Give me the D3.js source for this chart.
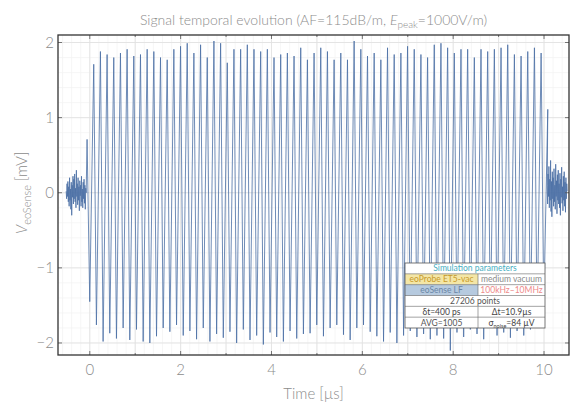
<!DOCTYPE html>
<html>
<head>
<meta charset="utf-8">
<script src="https://cdn.jsdelivr.net/npm/d3@7"></script>
<style>
  body { margin: 0; background: #fff; }
  svg { display: block; font-family: "Lato", "Open Sans", sans-serif; }
</style>
</head>
<body>
<svg id="chart" width="576" height="409"></svg>
<script>
// burst: crest / trough values (mV), one per half cycle
const burstStart = -0.06;   // time of first crest, µs
const burstPeriod = 0.147;  // µs
const crests = [0.71, 1.71, 1.88, 1.84, 1.80, 1.86, 1.91, 1.82, 1.84, 1.91, 1.88, 1.80, 1.77, 1.91,
  1.95, 1.99, 1.86, 1.97, 1.80, 2.02, 1.99, 1.73, 1.91, 1.91, 1.97, 1.91, 1.88, 1.91, 1.80, 1.84,
  1.86, 1.82, 1.93, 1.77, 1.86, 1.93, 1.88, 1.77, 1.86, 1.77, 2.02, 1.91, 1.82, 1.86, 1.77, 1.93,
  1.84, 1.86, 1.95, 1.91, 1.84, 1.80, 1.97, 1.99, 1.93, 1.86, 1.91, 1.91, 1.80, 1.91, 1.88, 1.91,
  1.93, 1.97, 1.84, 1.82, 1.88, 1.93, 1.86, 1.11];
const troughs = [-1.45, -1.76, -1.98, -1.87, -1.94, -1.80, -1.96, -1.82, -1.98, -2.00, -1.91, -1.80,
  -1.85, -1.76, -1.90, -1.84, -1.95, -1.80, -1.98, -1.88, -1.93, -1.85, -2.00, -1.82, -1.96, -1.90,
  -2.02, -1.86, -1.92, -1.98, -1.84, -1.94, -1.88, -1.87, -1.76, -1.91, -1.80, -1.76, -1.89, -1.96,
  -1.80, -1.76, -1.85, -1.91, -1.98, -1.86, -2.00, -1.90, -1.84, -1.92, -1.88, -1.95, -1.90, -1.94,
  -2.10, -1.86, -1.92, -1.82, -1.88, -1.95, -1.80, -1.90, -1.86, -1.93, -1.84, -1.90, -1.82, -1.78,
  -1.55];

// noise before and after the burst (mV)
const leftNoiseSpan = [-0.52, -0.08];
const leftNoise = [0.02, -0.08, 0.12, -0.05, 0.15, -0.12, 0.08, -0.18, 0.20, -0.10, 0.05, -0.22,
  0.14, -0.30, 0.10, -0.06, 0.22, -0.15, 0.18, -0.08, 0.25, -0.12, 0.06, -0.20, 0.30, -0.05, 0.12,
  -0.16, 0.20, -0.10, 0.08, -0.24, 0.16, -0.04, 0.10, -0.18, 0.22, -0.12, 0.05, -0.20, 0.14, -0.08,
  0.18, -0.14, 0.10, -0.22, 0.06, 0.00];
const rightNoiseSpan = [10.07, 10.51];
const rightNoise = [0.10, -0.15, 0.25, -0.05, 0.35, -0.20, 0.18, -0.10, 0.43, -0.25, 0.15, -0.32,
  0.28, -0.08, 0.20, -0.18, 0.32, -0.12, 0.10, -0.22, 0.38, -0.05, 0.16, -0.28, 0.24, -0.10, 0.30,
  -0.15, 0.12, -0.20, 0.26, -0.30, 0.18, -0.06, 0.34, -0.14, 0.08, -0.24, 0.22, -0.10, 0.28, -0.18,
  0.14, -0.26, 0.20, -0.08, 0.12, 0.02];

const xTicks = [0, 2, 4, 6, 8, 10];
const yTicks = [-2, -1, 0, 1, 2];

const legendRows = [
  [{ text: "Simulation parameters", color: "#48aebf" }],
  [{ text: "eoProbe ET5-vac", color: "#c79a2a", fill: "#f4e6a6" }, { text: "medium vacuum", color: "#8a8a8a" }],
  [{ text: "eoSense LF", color: "#6a86a6", fill: "#b6cadf" }, { text: "100kHz\u201310MHz", color: "#ee8a8a" }],
  [{ text: "27206 points", color: "#555" }],
  [{ text: "\u03b4t=400 ps", color: "#444" }, { text: "\u0394t=10.9\u00b5s", color: "#444" }],
  [{ text: "AVG=1005", color: "#555" }, { text: "\u03c3", sub: "noise", after: "=84 \u00b5V", color: "#444" }]
];

const svg = d3.select("#chart");
const margin = { top: 35, right: 7, bottom: 54, left: 58 };
const width = 576, height = 409;

const x = d3.scaleLinear().domain([-0.7, 10.55]).range([margin.left, width - margin.right]);
const y = d3.scaleLinear().domain([-2.16, 2.1]).range([height - margin.bottom, margin.top]);

const textGrey = "#8c8c8c";

// grid
const grid = svg.append("g");
grid.selectAll(".vminor").data(x.ticks(56)).join("line")
  .attr("x1", d => x(d)).attr("x2", d => x(d))
  .attr("y1", margin.top).attr("y2", height - margin.bottom)
  .attr("stroke", "#f2f2f2").attr("stroke-width", 0.7);
grid.selectAll(".hminor").data(y.ticks(20)).join("line")
  .attr("y1", d => y(d)).attr("y2", d => y(d))
  .attr("x1", margin.left).attr("x2", width - margin.right)
  .attr("stroke", "#f2f2f2").attr("stroke-width", 0.7);
grid.selectAll(".vmajor").data(x.ticks(11)).join("line")
  .attr("x1", d => x(d)).attr("x2", d => x(d))
  .attr("y1", margin.top).attr("y2", height - margin.bottom)
  .attr("stroke", "#e0e0e0").attr("stroke-width", 0.8);
grid.selectAll(".hmajor").data(yTicks).join("line")
  .attr("y1", d => y(d)).attr("y2", d => y(d))
  .attr("x1", margin.left).attr("x2", width - margin.right)
  .attr("stroke", "#e0e0e0").attr("stroke-width", 0.8);

// trace
const points = [];
leftNoise.forEach((v, i) => points.push([leftNoiseSpan[0] + i * (leftNoiseSpan[1] - leftNoiseSpan[0]) / (leftNoise.length - 1), v]));
crests.forEach((c, k) => {
  points.push([burstStart + k * burstPeriod, c]);
  if (k < troughs.length) points.push([burstStart + (k + 0.4) * burstPeriod, troughs[k]]);
});
rightNoise.forEach((v, i) => points.push([rightNoiseSpan[0] + i * (rightNoiseSpan[1] - rightNoiseSpan[0]) / (rightNoise.length - 1), v]));

svg.append("clipPath").attr("id", "plotClip").append("rect")
  .attr("x", margin.left).attr("y", margin.top)
  .attr("width", width - margin.left - margin.right)
  .attr("height", height - margin.top - margin.bottom);

svg.append("path")
  .datum(points)
  .attr("clip-path", "url(#plotClip)")
  .attr("fill", "none")
  .attr("stroke", "#4a6fa5")
  .attr("stroke-width", 0.8)
  .attr("d", d3.line().x(d => x(d[0])).y(d => y(d[1])));

// ticks inward on all sides
const tk = svg.append("g").attr("stroke", "#555").attr("stroke-width", 0.8);
x.ticks(11).forEach(t => {
  const len = (t % 2 === 0) ? 4 : 2;
  tk.append("line").attr("x1", x(t)).attr("x2", x(t)).attr("y1", height - margin.bottom).attr("y2", height - margin.bottom - len);
  tk.append("line").attr("x1", x(t)).attr("x2", x(t)).attr("y1", margin.top).attr("y2", margin.top + len);
});
yTicks.forEach(t => {
  tk.append("line").attr("y1", y(t)).attr("y2", y(t)).attr("x1", margin.left).attr("x2", margin.left + 4);
  tk.append("line").attr("y1", y(t)).attr("y2", y(t)).attr("x1", width - margin.right).attr("x2", width - margin.right - 4);
});

// frame
svg.append("rect")
  .attr("x", margin.left).attr("y", margin.top)
  .attr("width", width - margin.left - margin.right)
  .attr("height", height - margin.top - margin.bottom)
  .attr("fill", "none").attr("stroke", "#333").attr("stroke-width", 1.3);

// tick labels
svg.selectAll(".xlab").data(xTicks).join("text")
  .attr("x", d => x(d)).attr("y", 375)
  .attr("text-anchor", "middle").attr("fill", textGrey)
  .style("font-size", "15px").style("font-weight", 300)
  .text(d => d);
svg.selectAll(".ylab").data(yTicks).join("text")
  .attr("x", 54).attr("y", d => y(d) + 5)
  .attr("text-anchor", "end").attr("fill", textGrey)
  .style("font-size", "15px").style("font-weight", 300)
  .text(d => d < 0 ? "\u2212" + Math.abs(d) : d);

// axis titles
svg.append("text")
  .attr("x", (margin.left + width - margin.right) / 2).attr("y", 399)
  .attr("text-anchor", "middle").attr("fill", textGrey)
  .style("font-size", "15px").style("font-weight", 300)
  .text("Time [\u00b5s]");

const yl = svg.append("text")
  .attr("transform", `translate(27,${y(0)}) rotate(-90)`)
  .attr("text-anchor", "middle").attr("fill", textGrey)
  .style("font-size", "15px").style("font-weight", 300);
yl.append("tspan").style("font-style", "italic").text("V");
yl.append("tspan").attr("dy", 4).style("font-size", "11px").text("eoSense");
yl.append("tspan").attr("dy", -4).text(" [mV]");

// title
const title = svg.append("text")
  .attr("x", (margin.left + width - margin.right) / 2).attr("y", 25)
  .attr("text-anchor", "middle").attr("fill", textGrey)
  .style("font-size", "14px").style("font-weight", 300);
title.append("tspan").text("Signal temporal evolution (AF=115dB/m, ");
title.append("tspan").style("font-style", "italic").text("E");
title.append("tspan").attr("dy", 3).style("font-size", "10px").text("peak");
title.append("tspan").attr("dy", -3).text("=1000V/m)");

// parameters table
const box = { x0: 405, x1: 545, y0: 263, y1: 328, split: 478 };
const rowH = (box.y1 - box.y0) / legendRows.length;
const lg = svg.append("g").style("font-size", "8.5px");
lg.append("rect").attr("x", box.x0).attr("y", box.y0)
  .attr("width", box.x1 - box.x0).attr("height", box.y1 - box.y0)
  .attr("fill", "#fff");
legendRows.forEach((row, r) => {
  const ry = box.y0 + r * rowH;
  row.forEach((cell, c) => {
    const cx0 = row.length === 1 ? box.x0 : (c === 0 ? box.x0 : box.split);
    const cx1 = row.length === 1 ? box.x1 : (c === 0 ? box.split : box.x1);
    if (cell.fill) {
      lg.append("rect").attr("x", cx0).attr("y", ry).attr("width", cx1 - cx0).attr("height", rowH).attr("fill", cell.fill);
    }
    const t = lg.append("text")
      .attr("x", (cx0 + cx1) / 2).attr("y", ry + rowH / 2 + 3)
      .attr("text-anchor", "middle").attr("fill", cell.color)
      .text(cell.text);
    if (cell.sub) {
      t.append("tspan").attr("dy", 2).style("font-size", "5.5px").text(cell.sub);
      t.append("tspan").attr("dy", -2).text(cell.after);
    }
  });
  if (row.length > 1) {
    lg.append("line").attr("x1", box.split).attr("x2", box.split)
      .attr("y1", ry).attr("y2", ry + rowH).attr("stroke", "#666").attr("stroke-width", 0.6);
  }
  if (r > 0) {
    lg.append("line").attr("x1", box.x0).attr("x2", box.x1)
      .attr("y1", ry).attr("y2", ry).attr("stroke", "#666").attr("stroke-width", 0.6);
  }
});
lg.append("rect").attr("x", box.x0).attr("y", box.y0)
  .attr("width", box.x1 - box.x0).attr("height", box.y1 - box.y0)
  .attr("fill", "none").attr("stroke", "#555").attr("stroke-width", 0.8);
</script>
</body>
</html>
